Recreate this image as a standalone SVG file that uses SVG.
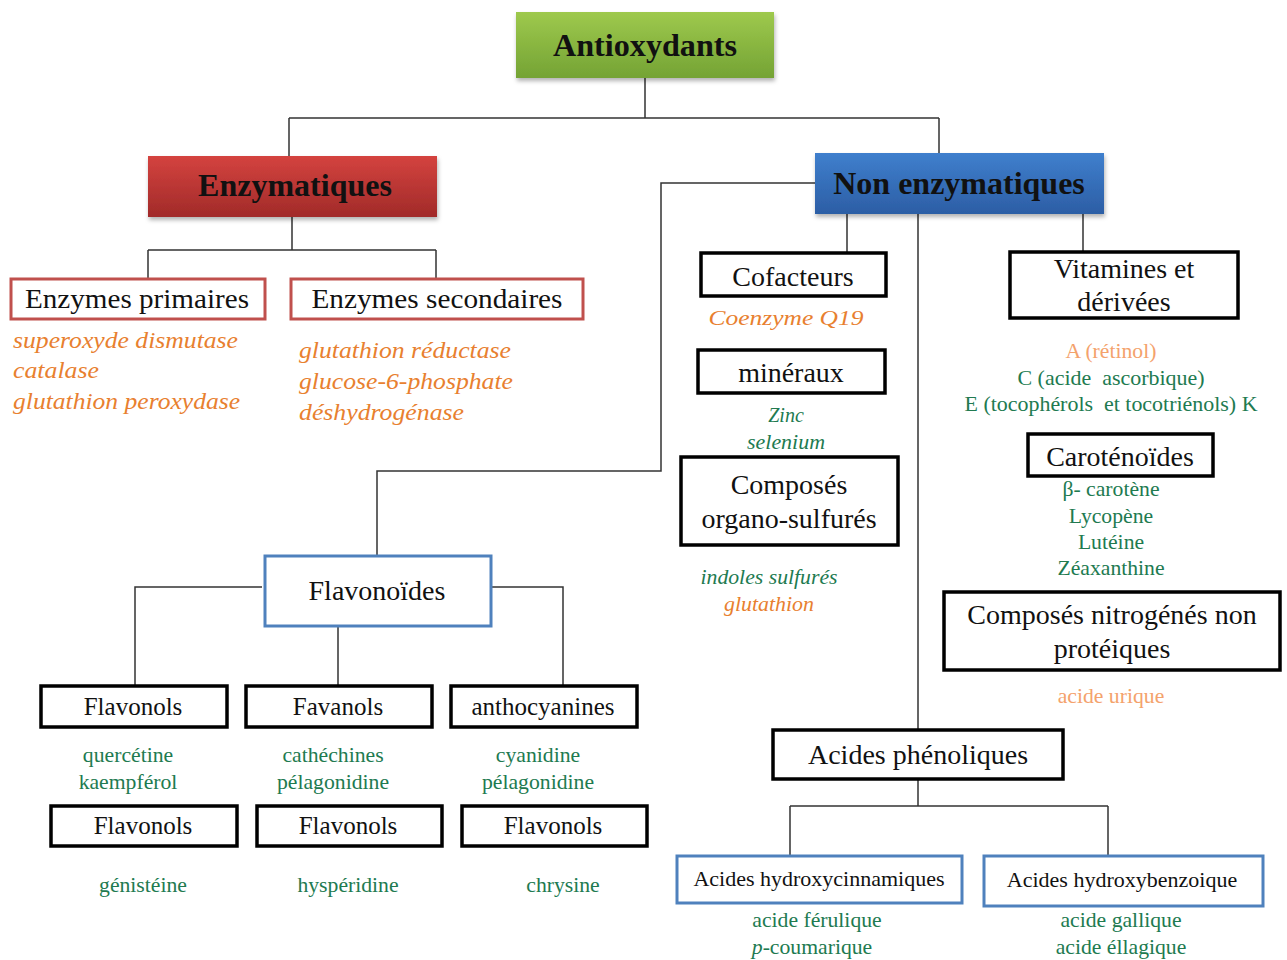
<svg xmlns="http://www.w3.org/2000/svg" width="1287" height="960" viewBox="0 0 1287 960">
  <defs>
    <linearGradient id="gGreen" x1="0" y1="0" x2="0" y2="1">
      <stop offset="0" stop-color="#9ec94d"/>
      <stop offset="1" stop-color="#74a334"/>
    </linearGradient>
    <linearGradient id="gRed" x1="0" y1="0" x2="0" y2="1">
      <stop offset="0" stop-color="#d4433f"/>
      <stop offset="1" stop-color="#a12a29"/>
    </linearGradient>
    <linearGradient id="gBlue" x1="0" y1="0" x2="0" y2="1">
      <stop offset="0" stop-color="#3f7fcd"/>
      <stop offset="1" stop-color="#2c5ea5"/>
    </linearGradient>
    <filter id="shadow" x="-10%" y="-20%" width="120%" height="150%">
      <feDropShadow dx="1" dy="3" stdDeviation="2" flood-color="#000" flood-opacity="0.3"/>
    </filter>
  </defs>
  <style>
    .conn { fill: none; stroke: #333; stroke-width: 1.5; }
    .head { stroke: none; filter: url(#shadow); }
    .black { fill: #fff; stroke: #000; stroke-width: 3.5; }
    .red { fill: #fff; stroke: #c0504d; stroke-width: 3; }
    .blue { fill: #fff; stroke: #4f81bd; stroke-width: 3; }
    text { font-family: "Liberation Serif", "Times New Roman", serif; text-anchor: middle; fill: #111; }
    .title { font-weight: bold; font-size: 32px; }
    .lbl { font-size: 28px; }
    .lbl2 { font-size: 25px; }
    .lbl3 { font-size: 22px; }
    .it { font-style: italic; font-size: 24px; text-anchor: start; }
    .itc { font-style: italic; font-size: 22px; }
    .org { fill: #e8802f; }
    .lorg { fill: #f4a26c; }
    .grn { fill: #217a50; }
    .sm { font-size: 21.7px; }
    .smi { font-size: 20px; }
  </style>

  <!-- connectors -->
  <g id="connectors">
    <path class="conn" d="M645,78 V118 M289,118 H939 M289,118 V156 M939,118 V153"/>
    <path class="conn" d="M292,217 V250 M148,250 H436 M148,250 V279 M436,250 V279"/>
    <path class="conn" d="M815,183 H661 V471 H377 V555"/>
    <path class="conn" d="M847,214 V253 M918,214 V730 M1083,214 V252"/>
    <path class="conn" d="M918,779 V806 M790,806 H1108 M790,806 V856 M1108,806 V856"/>
    <path class="conn" d="M262,587 H135 V686 M491,587 H563 V686 M338,626 V686"/>
  </g>

  <g id="antioxydants">
    <rect class="head" x="516" y="12" width="258" height="66" fill="url(#gGreen)"/>
    <text class="title" x="645" y="56" textLength="184" lengthAdjust="spacingAndGlyphs">Antioxydants</text>
  </g>

  <g id="enzymatiques">
    <rect class="head" x="148" y="156" width="289" height="61" fill="url(#gRed)"/>
    <text class="title" x="295" y="196">Enzymatiques</text>
  </g>

  <g id="non-enzymatiques">
    <rect class="head" x="815" y="153" width="289" height="61" fill="url(#gBlue)"/>
    <text class="title" x="959" y="194">Non enzymatiques</text>
  </g>

  <g id="enzymes-primaires">
    <rect class="red" x="11" y="279" width="254" height="40"/>
    <text class="lbl" x="137" y="308" textLength="224" lengthAdjust="spacingAndGlyphs">Enzymes primaires</text>
    <text class="it org" x="13" y="348" textLength="225" lengthAdjust="spacingAndGlyphs">superoxyde dismutase</text>
    <text class="it org" x="13" y="378" textLength="86" lengthAdjust="spacingAndGlyphs">catalase</text>
    <text class="it org" x="13" y="409" textLength="227" lengthAdjust="spacingAndGlyphs">glutathion peroxydase</text>
  </g>

  <g id="enzymes-secondaires">
    <rect class="red" x="291" y="279" width="292" height="40"/>
    <text class="lbl" x="437" y="308" textLength="251" lengthAdjust="spacingAndGlyphs">Enzymes secondaires</text>
    <text class="it org" x="299" y="358" textLength="212" lengthAdjust="spacingAndGlyphs">glutathion réductase</text>
    <text class="it org" x="299" y="389" textLength="214" lengthAdjust="spacingAndGlyphs">glucose-6-phosphate</text>
    <text class="it org" x="299" y="420" textLength="165" lengthAdjust="spacingAndGlyphs">déshydrogénase</text>
  </g>

  <g id="cofacteurs">
    <rect class="black" x="701" y="253" width="185" height="43"/>
    <text class="lbl" x="793" y="286">Cofacteurs</text>
    <text class="itc org" x="786" y="325" textLength="155" lengthAdjust="spacingAndGlyphs">Coenzyme Q19</text>
  </g>

  <g id="mineraux">
    <rect class="black" x="698" y="350" width="187" height="43"/>
    <text class="lbl" x="791" y="382">minéraux</text>
    <text class="itc grn smi" x="786" y="422">Zinc</text>
    <text class="itc grn smi" x="786" y="449" textLength="78" lengthAdjust="spacingAndGlyphs">selenium</text>
  </g>

  <g id="organo-sulfures">
    <rect class="black" x="681" y="457" width="217" height="88"/>
    <text class="lbl" x="789" y="494">Composés</text>
    <text class="lbl" x="789" y="528">organo-sulfurés</text>
    <text class="itc grn smi" x="769" y="584" textLength="137" lengthAdjust="spacingAndGlyphs">indoles sulfurés</text>
    <text class="itc org smi" x="769" y="611" textLength="90" lengthAdjust="spacingAndGlyphs">glutathion</text>
  </g>

  <g id="vitamines">
    <rect class="black" x="1010" y="252" width="228" height="66"/>
    <text class="lbl" x="1124" y="278">Vitamines et</text>
    <text class="lbl" x="1124" y="311">dérivées</text>
    <text class="lorg sm" x="1111" y="358">A (rétinol)</text>
    <text class="grn sm" x="1111" y="385" xml:space="preserve" textLength="187" lengthAdjust="spacingAndGlyphs">C (acide  ascorbique)</text>
    <text class="grn sm" x="1111" y="411" xml:space="preserve" textLength="293" lengthAdjust="spacingAndGlyphs">E (tocophérols  et tocotriénols) K</text>
  </g>

  <g id="carotenoides">
    <rect class="black" x="1028" y="434" width="185" height="42"/>
    <text class="lbl" x="1120" y="466">Caroténoïdes</text>
    <text class="grn sm" x="1111" y="496">β- carotène</text>
    <text class="grn sm" x="1111" y="523">Lycopène</text>
    <text class="grn sm" x="1111" y="549">Lutéine</text>
    <text class="grn sm" x="1111" y="575">Zéaxanthine</text>
  </g>

  <g id="nitrogenes">
    <rect class="black" x="944" y="592" width="336" height="78"/>
    <text class="lbl" x="1112" y="624">Composés nitrogénés non</text>
    <text class="lbl" x="1112" y="658">protéiques</text>
    <text class="lorg sm" x="1111" y="703">acide urique</text>
  </g>

  <g id="acides-phenoliques">
    <rect class="black" x="773" y="730" width="290" height="49"/>
    <text class="lbl" x="918" y="764">Acides phénoliques</text>
  </g>

  <g id="hydroxycinnamiques">
    <rect class="blue" x="677" y="856" width="285" height="47"/>
    <text class="lbl3" x="819" y="886">Acides hydroxycinnamiques</text>
    <text class="grn sm" x="817" y="927">acide férulique</text>
    <text class="grn sm" x="812" y="954"><tspan font-style="italic">p</tspan>-coumarique</text>
  </g>

  <g id="hydroxybenzoique">
    <rect class="blue" x="984" y="856" width="279" height="50"/>
    <text class="lbl3" x="1122" y="887">Acides hydroxybenzoique</text>
    <text class="grn sm" x="1121" y="927">acide gallique</text>
    <text class="grn sm" x="1121" y="954">acide éllagique</text>
  </g>

  <g id="flavonoides">
    <rect class="blue" x="265" y="556" width="226" height="70"/>
    <text class="lbl" x="377" y="600">Flavonoïdes</text>
  </g>

  <g id="flavonols-1">
    <rect class="black" x="41" y="686" width="186" height="41"/>
    <text class="lbl2" x="133" y="715">Flavonols</text>
    <text class="grn sm" x="128" y="762">quercétine</text>
    <text class="grn sm" x="128" y="789">kaempférol</text>
  </g>

  <g id="favanols">
    <rect class="black" x="246" y="686" width="186" height="41"/>
    <text class="lbl2" x="338" y="715">Favanols</text>
    <text class="grn sm" x="333" y="762">cathéchines</text>
    <text class="grn sm" x="333" y="789">pélagonidine</text>
  </g>

  <g id="anthocyanines">
    <rect class="black" x="451" y="686" width="186" height="41"/>
    <text class="lbl2" x="543" y="715">anthocyanines</text>
    <text class="grn sm" x="538" y="762">cyanidine</text>
    <text class="grn sm" x="538" y="789">pélagonidine</text>
  </g>

  <g id="flavonols-2">
    <rect class="black" x="51" y="806" width="186" height="40"/>
    <text class="lbl2" x="143" y="834">Flavonols</text>
    <text class="grn sm" x="143" y="892">génistéine</text>
  </g>

  <g id="flavonols-3">
    <rect class="black" x="257" y="806" width="185" height="40"/>
    <text class="lbl2" x="348" y="834">Flavonols</text>
    <text class="grn sm" x="348" y="892">hyspéridine</text>
  </g>

  <g id="flavonols-4">
    <rect class="black" x="462" y="806" width="185" height="40"/>
    <text class="lbl2" x="553" y="834">Flavonols</text>
    <text class="grn sm" x="563" y="892">chrysine</text>
  </g>
</svg>
